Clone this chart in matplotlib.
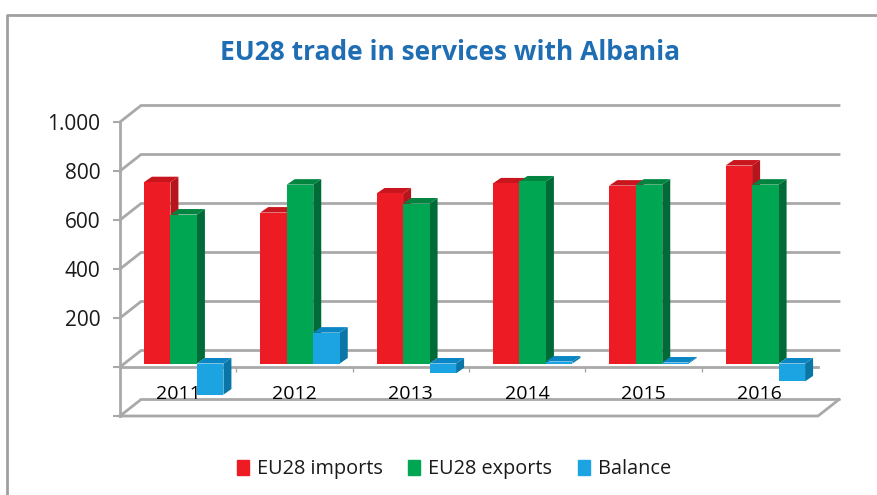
import matplotlib
matplotlib.use('Agg')
import matplotlib.pyplot as plt
from matplotlib.lines import Line2D
from matplotlib.patches import Patch

years = ['2011', '2012', '2013', '2014', '2015', '2016']
imports = [740, 616, 694, 735, 726, 808]
exports = [608, 730, 653, 743, 730, 730]
balance = [-127, 126, -40, 8, 4, -73]
yticks = [-200, 0, 200, 400, 600, 800, 1000]
ylabels = ['', '', '200', '400', '600', '800', '1.000']

reds = ('#ED1C24', '#B8141B', '#C9161E')
greens = ('#00A651', '#006B36', '#00843F')
blues = ('#1CA4E2', '#0A76A8', '#0B86C4')
grid_col = '#a9a9a9'

plt.rcParams['font.family'] = ['Open Sans', 'DejaVu Sans']

fig = plt.figure(figsize=(8.77, 4.95), dpi=100)
# front plane of the chart, in pixels: x 120-818, y 416-122
ax = fig.add_axes([120 / 877, (495 - 416) / 495, 698 / 877, 294 / 495])
ax.set_xlim(0, 6)
ax.set_ylim(-200, 1000)
for s in ax.spines.values():
    s.set_visible(False)

# pixels to data units
px_x = 6 / 698
px_y = 1200 / 294

depth_x = 21 * px_x
depth_y = 16.5 * px_y

# outer frame
fig.add_artist(Line2D([7 / 877, 7 / 877, 1], [0, 1 - 15 / 495, 1 - 15 / 495],
                      color='#a0a0a0', lw=2))

# back wall lines and left side
for t in yticks:
    ax.plot([0, depth_x, 6 + depth_x], [t, t + depth_y, t + depth_y],
            color=grid_col, lw=2, clip_on=False, zorder=1, solid_joinstyle='miter')
ax.plot([0, 0], [-200, 1000], color=grid_col, lw=2, clip_on=False, zorder=1)
ax.plot([0, 6, 6 + depth_x], [-200, -200, -200 + depth_y], color=grid_col, lw=2,
        clip_on=False, zorder=1)
ax.plot([0, 6], [0, 0], color=grid_col, lw=2, clip_on=False, zorder=1)
ax.vlines(range(1, 6), -20, 0, color=grid_col, lw=1, zorder=1)

# bars
bar_w = 26.5 * 6 / 698
shift_x = 5.5 * px_x
shift_y = 3.5 * px_y
side_x = 8 * px_x
side_y = 5.5 * px_y
z = 2


def draw_bar(x, v, cols):
    global z
    lo = shift_y + min(v, 0)
    hi = shift_y + max(v, 0)
    l = x + shift_x
    r = l + bar_w
    ax.fill([r, r + side_x, r + side_x, r],
            [lo, lo + side_y, hi + side_y, hi], color=cols[1], lw=0, zorder=z)
    ax.fill([l, l + side_x, r + side_x, r],
            [hi, hi + side_y, hi + side_y, hi], color=cols[2], lw=0, zorder=z)
    ax.bar(l, hi - lo, bar_w, bottom=lo, align='edge', color=cols[0], lw=0, zorder=z)
    z += 1


for i in range(len(years)):
    start = i + 0.5 - 1.5 * bar_w
    draw_bar(start, imports[i], reds)
    draw_bar(start + bar_w, exports[i], greens)
    draw_bar(start + 2 * bar_w, balance[i], blues)

ax.set_yticks(yticks)
ax.set_yticklabels(ylabels)
ax.set_xticks([i + 0.5 for i in range(6)])
ax.set_xticklabels(years)
ax.tick_params(axis='y', length=5, width=1.5, color=grid_col, labelsize=15,
               labelcolor='#1a1a1a', pad=9)
ax.tick_params(axis='x', length=0, labelsize=14, labelcolor='#000000', pad=-22)
ax.xaxis.set_zorder(50)

fig.text(450 / 877, 1 - 52 / 495, 'EU28 trade in services with Albania', color='#1F6EB4',
         fontsize=19, fontweight='bold', ha='center', va='center')

handles = [Patch(color=reds[0]), Patch(color=greens[0]), Patch(color=blues[0])]
fig.legend(handles, ['EU28 imports', 'EU28 exports', 'Balance'], ncol=3, frameon=False,
           loc='center', bbox_to_anchor=(454 / 877, 1 - 469 / 495), fontsize=14.3,
           handlelength=0.6, handleheight=0.8, handletextpad=0.4, columnspacing=1.3,
           labelcolor='#1a1a1a')

fig.savefig('out.png', dpi=100)
